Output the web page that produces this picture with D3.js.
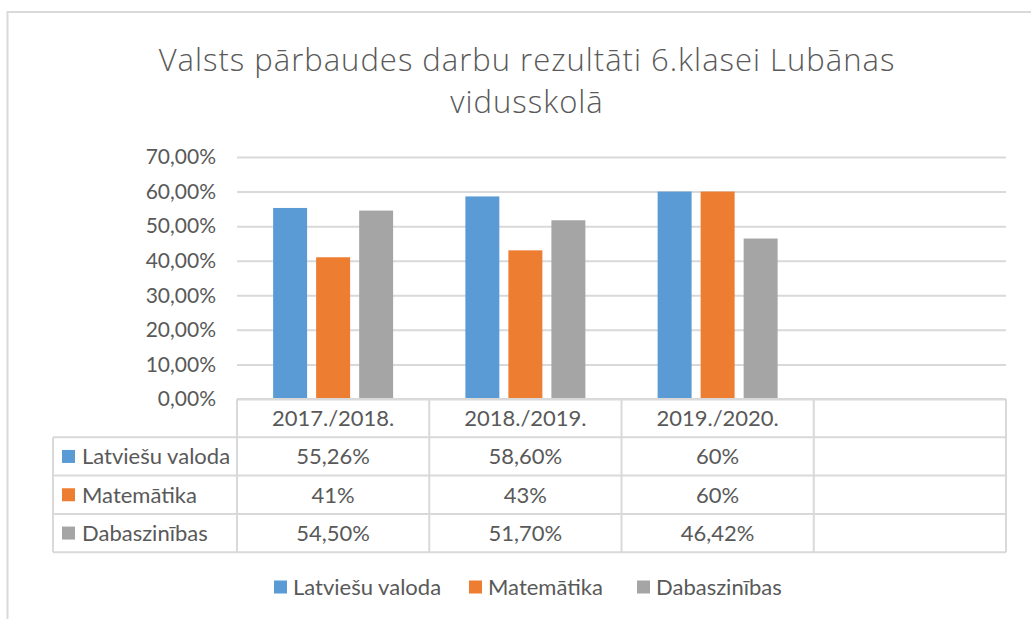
<!DOCTYPE html>
<html>
<head>
<meta charset="utf-8">
<script src="https://cdn.jsdelivr.net/npm/d3@7"></script>
<style>
	body { margin: 0; background: #fff; }
	svg { display: block; }
	text { font-family: Lato, "Open Sans", sans-serif; fill: #595959; }
</style>
</head>
<body>
<div id="chart"></div>
<script>
"use strict";

// chart data
var categories = ["2017./2018.", "2018./2019.", "2019./2020.", ""];
var seriesNames = ["Latviešu valoda", "Matemātika", "Dabaszinības"];
var latvianValues = [0.5526, 0.586, 0.60];
var mathValues = [0.41, 0.43, 0.60];
var scienceValues = [0.545, 0.517, 0.4642];
// labels as shown in the data table
var latvianLabels = ["55,26%", "58,60%", "60%"];
var mathLabels = ["41%", "43%", "60%"];
var scienceLabels = ["54,50%", "51,70%", "46,42%"];
var yTicks = [0, 0.1, 0.2, 0.3, 0.4, 0.5, 0.6, 0.7];

var colors = ["#5b9bd5", "#ed7d31", "#a5a5a5"];
var gridColor = "#d9d9d9";

var width = 1031, height = 619;
var plot = {left: 237, right: 1006, top: 157, bottom: 399};
var rowH = 38.3;
var legendColLeft = 53;

var series = seriesNames.map(function(name, i) {
	return {
		name: name,
		color: colors[i],
		values: [latvianValues, mathValues, scienceValues][i],
		labels: [latvianLabels, mathLabels, scienceLabels][i]
	};
});

var svg = d3.select("#chart").append("svg")
	.attr("width", width)
	.attr("height", height);

// outer chart border (runs off right and bottom)
svg.append("rect")
	.attr("x", 7.5).attr("y", 12)
	.attr("width", 1040).attr("height", 640)
	.attr("fill", "none")
	.attr("stroke", gridColor)
	.attr("stroke-width", 2);

// title
var title = svg.append("text")
	.attr("text-anchor", "middle")
	.style("font-family", "'Open Sans', sans-serif")
	.style("font-weight", 300)
	.style("font-size", "31px")
	.style("letter-spacing", "1px");
title.append("tspan").attr("x", 527).attr("y", 71)
	.text("Valsts pārbaudes darbu rezultāti 6.klasei Lubānas");
title.append("tspan").attr("x", 527).attr("y", 113)
	.text("vidusskolā");

var x = d3.scaleBand()
	.domain(categories)
	.range([plot.left, plot.right]);

var groupW = 120;
var x1 = d3.scaleBand()
	.domain(seriesNames)
	.range([(x.bandwidth() - groupW) / 2, (x.bandwidth() + groupW) / 2])
	.paddingInner(0.21);

var y = d3.scaleLinear()
	.domain([0, 0.7])
	.range([plot.bottom, plot.top]);

var pctFormat = function(v) {
	return d3.format(".2f")(v * 100).replace(".", ",") + "%";
};

// gridlines
svg.append("g")
	.attr("transform", "translate(" + plot.left + ",0)")
	.call(d3.axisLeft(y).tickValues(yTicks).tickSize(-(plot.right - plot.left)).tickFormat(""))
	.call(function(g) { g.select(".domain").remove(); })
	.selectAll("line")
	.attr("stroke", gridColor)
	.attr("stroke-width", 2);

// y axis labels
svg.append("g")
	.attr("transform", "translate(" + (plot.left - 19) + ",0)")
	.call(d3.axisLeft(y).tickValues(yTicks).tickSize(0).tickPadding(2).tickFormat(pctFormat))
	.call(function(g) { g.select(".domain").remove(); })
	.selectAll("text")
	.style("font-size", "21px")
	.style("fill", "#595959")
	.style("font-family", "Lato, sans-serif");

// bars
var groups = svg.append("g").selectAll("g")
	.data(series)
	.join("g")
	.attr("fill", function(d) { return d.color; });

groups.selectAll("rect")
	.data(function(s) {
		return s.values.map(function(v, i) {
			return {cat: categories[i], name: s.name, value: v};
		});
	})
	.join("rect")
	.attr("x", function(d) { return x(d.cat) + x1(d.name); })
	.attr("y", function(d) { return y(d.value); })
	.attr("width", x1.bandwidth())
	.attr("height", function(d) { return y(0) - y(d.value); });

// data table
var table = svg.append("g")
	.attr("stroke", gridColor)
	.attr("stroke-width", 2)
	.attr("fill", "none");

var tableBottom = plot.bottom + rowH * (series.length + 1);

// horizontal lines
table.append("line")
	.attr("x1", plot.left).attr("x2", plot.right)
	.attr("y1", plot.bottom).attr("y2", plot.bottom);
d3.range(1, series.length + 2).forEach(function(r) {
	table.append("line")
		.attr("x1", legendColLeft).attr("x2", plot.right)
		.attr("y1", plot.bottom + r * rowH).attr("y2", plot.bottom + r * rowH);
});

// vertical lines
table.append("line")
	.attr("x1", legendColLeft).attr("x2", legendColLeft)
	.attr("y1", plot.bottom + rowH).attr("y2", tableBottom);
categories.forEach(function(c) {
	table.append("line")
		.attr("x1", x(c)).attr("x2", x(c))
		.attr("y1", plot.bottom).attr("y2", tableBottom);
});
table.append("line")
	.attr("x1", plot.right).attr("x2", plot.right)
	.attr("y1", plot.bottom).attr("y2", tableBottom);

// header labels
svg.append("g").selectAll("text")
	.data(categories)
	.join("text")
	.attr("x", function(d) { return x(d) + x.bandwidth() / 2; })
	.attr("y", plot.bottom + rowH / 2)
	.attr("dy", "0.36em")
	.attr("text-anchor", "middle")
	.style("font-size", "22px")
	.text(function(d) { return d; });

// series rows
var rows = svg.append("g").selectAll("g")
	.data(series)
	.join("g")
	.attr("transform", function(d, i) {
		return "translate(0," + (plot.bottom + (i + 1) * rowH) + ")";
	});

rows.append("rect")
	.attr("x", 62)
	.attr("y", rowH / 2 - 6.5)
	.attr("width", 13)
	.attr("height", 13)
	.attr("fill", function(d) { return d.color; });

rows.append("text")
	.attr("x", 82)
	.attr("y", rowH / 2)
	.attr("dy", "0.36em")
	.style("font-size", "22px")
	.text(function(d) { return d.name; });

rows.selectAll(".val")
	.data(function(s) { return s.labels; })
	.join("text")
	.attr("class", "val")
	.attr("x", function(d, i) { return x(categories[i]) + x.bandwidth() / 2; })
	.attr("y", rowH / 2)
	.attr("dy", "0.36em")
	.attr("text-anchor", "middle")
	.style("font-size", "22px")
	.text(function(d) { return d; });

// bottom legend
var legendX = [274, 469, 637];
var legend = svg.append("g").selectAll("g")
	.data(series)
	.join("g")
	.attr("transform", function(d, i) { return "translate(" + legendX[i] + ",587)"; });

legend.append("rect")
	.attr("x", 0).attr("y", -6.5)
	.attr("width", 13).attr("height", 13)
	.attr("fill", function(d) { return d.color; });

legend.append("text")
	.attr("x", 19)
	.attr("dy", "0.36em")
	.style("font-size", "22px")
	.text(function(d) { return d.name; });
</script>
</body>
</html>
